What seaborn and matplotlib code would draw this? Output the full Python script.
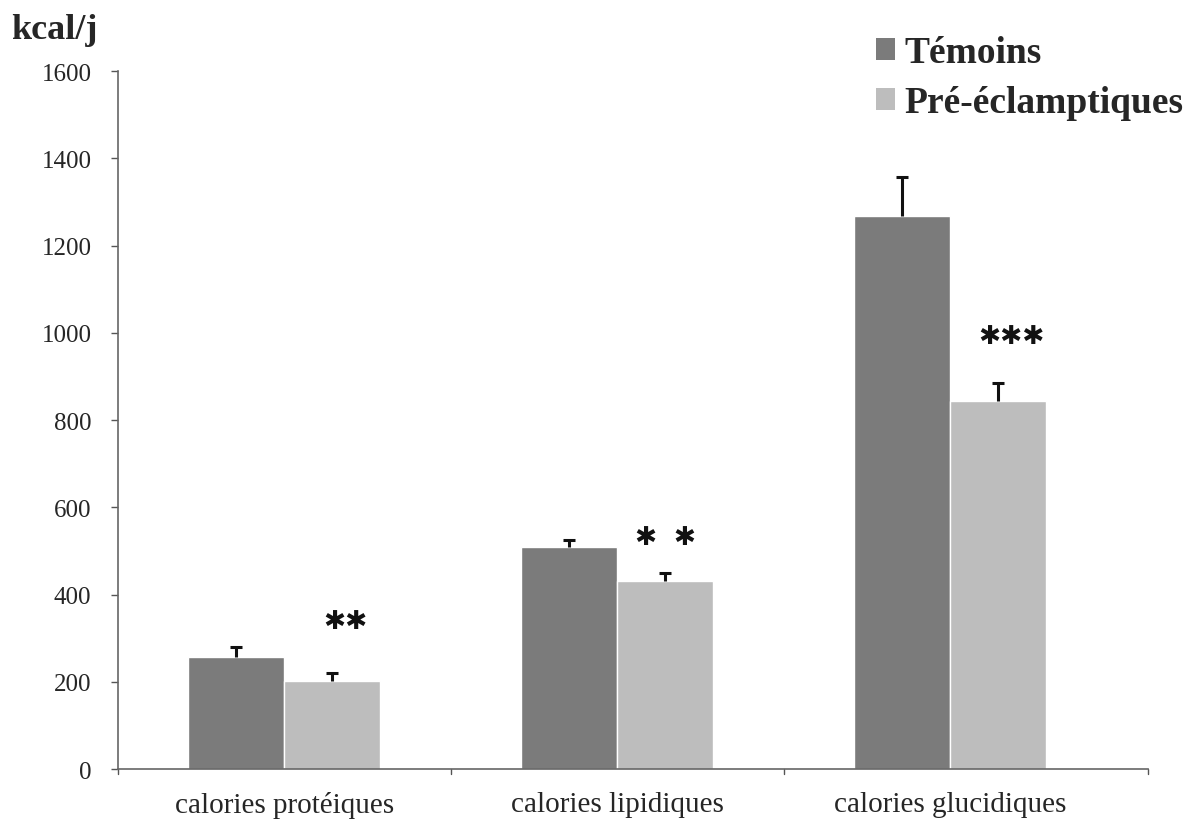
import matplotlib
matplotlib.use("Agg")
import matplotlib.pyplot as plt
import seaborn as sns
import pandas as pd
import numpy as np

categories = ["calories protéiques", "calories lipidiques", "calories glucidiques"]
groups = ["Témoins", "Pré-éclamptiques"]
temoins = [258, 509, 1268]
preecl = [203, 431, 843]
temoins_err = [23, 16, 90]
preecl_err = [18, 18, 43]
stars = ["✱✱", "✱  ✱", "✱✱✱"]
star_y = [340, 532, 993]
yticks = [0, 200, 400, 600, 800, 1000, 1200, 1400, 1600]

df = pd.DataFrame({
    "cat": categories * 2,
    "grp": [groups[0]] * 3 + [groups[1]] * 3,
    "val": temoins + preecl,
})

sns.set_theme(style="white")
plt.rcParams["font.family"] = ["Liberation Serif", "DejaVu Serif"]

fig = plt.figure(figsize=(12.02, 8.29), dpi=100)
ax = fig.add_axes([0.098, 0.071, 0.857, 0.842])

palette = {"Témoins": "#7b7b7b", "Pré-éclamptiques": "#bdbdbd"}
sns.barplot(data=df, x="cat", y="val", hue="grp", order=categories,
            hue_order=groups, palette=palette, width=0.576, errorbar=None,
            saturation=1, ax=ax, legend=False)

# error bars (upward only)
errs = {groups[0]: temoins_err, groups[1]: preecl_err}
vals = {groups[0]: temoins, groups[1]: preecl}
bars = ax.patches
for gi, g in enumerate(groups):
    for ci in range(3):
        p = bars[gi * 3 + ci]
        xc = p.get_x() + p.get_width() / 2
        top = vals[g][ci] + errs[g][ci]
        ax.vlines(xc, vals[g][ci], top, color="#111111", lw=2.2)
        ax.hlines(top, xc - 0.018, xc + 0.018, color="#111111", lw=2.2)

# significance stars
star_dx = [0.04, 0.0, 0.04]
for ci in range(3):
    p = bars[3 + ci]
    xc = p.get_x() + p.get_width() / 2
    ax.text(xc + star_dx[ci], star_y[ci], stars[ci], ha="center", va="center",
            fontsize=19, family=["DejaVu Sans"], color="#111111")

ax.set_ylim(0, 1600)
ax.set_xlim(-0.5, 2.593)
ax.set_yticks(yticks)
ax.set_yticklabels([str(t) for t in yticks], fontsize=18)
ax.set_xticks([0, 1, 2])
ax.set_xticklabels(categories, fontsize=21)
ax.tick_params(axis="x", length=0, pad=16)
ax.tick_params(axis="y", length=5, width=1, color="#555555", pad=14, left=True)
for xt in [-0.5, 0.5, 1.5, 2.593]:
    ax.plot([xt, xt], [0, -12], color="#555555", lw=1, clip_on=False)
ax.set_xlabel("")
ax.set_ylabel("")
sns.despine(ax=ax)
for s in ["left", "bottom"]:
    ax.spines[s].set_color("#666666")
    ax.spines[s].set_linewidth(1.2)

fig.text(0.009, 0.963, "kcal/j", fontsize=26, fontweight="bold", ha="left", va="center")

# legend
from matplotlib.patches import Patch
handles = [Patch(facecolor=palette[g], edgecolor="none") for g in groups]
leg = fig.legend(handles, groups, loc="upper left", bbox_to_anchor=(0.701, 0.997),
                 frameon=False, prop={"size": 27, "weight": "bold"},
                 handlelength=0.5, handleheight=0.5, handletextpad=0.25,
                 labelspacing=0.4)

fig.savefig("out.png", dpi=100)
